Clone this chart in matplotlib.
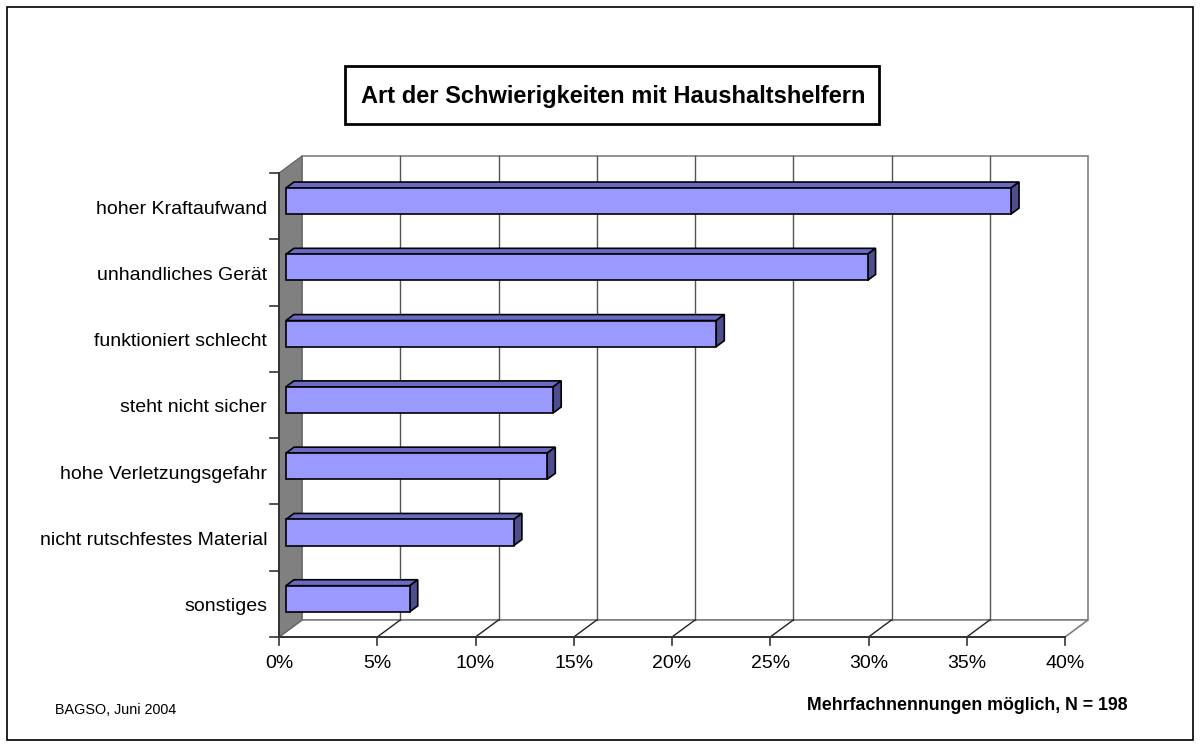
import matplotlib
matplotlib.use("Agg")
import matplotlib.pyplot as plt
from matplotlib.patches import Polygon, Rectangle
from matplotlib.lines import Line2D
from matplotlib.transforms import IdentityTransform
import numpy as np

plt.rcParams['font.family'] = ['Liberation Sans', 'DejaVu Sans']

title = "Art der Schwierigkeiten mit Haushaltshelfern"
categories = ["hoher Kraftaufwand", "unhandliches Gerät", "funktioniert schlecht",
              "steht nicht sicher", "hohe Verletzungsgefahr",
              "nicht rutschfestes Material", "sonstiges"]
values = [36.9, 29.6, 21.9, 13.6, 13.3, 11.6, 6.3]
xticks = [0, 5, 10, 15, 20, 25, 30, 35, 40]
xticklabels = ["0%", "5%", "10%", "15%", "20%", "25%", "30%", "35%", "40%"]
source = "BAGSO, Juni 2004"
note = "Mehrfachnennungen möglich, N = 198"

W, H = 1200, 747
fig = plt.figure(figsize=(W / 100, H / 100), dpi=100)
ax = fig.add_axes([279 / W, (H - 637) / H, (1065 - 279) / W, (637 - 173) / H])
ax.set_xlim(0, 40)
ax.set_ylim(0, len(categories))
ax.axis('off')

DEPTH = np.array([23.0, 17.0])  # display offset of full depth (pixels)
ID = IdentityTransform()


def P(x, y, d=0.0):
    return ax.transData.transform((x, y)) + d * DEPTH


def poly(pts, **kw):
    p = Polygon(np.array(pts), closed=True, transform=ID, clip_on=False, **kw)
    fig.add_artist(p)


def line(p1, p2, **kw):
    l = Line2D([p1[0], p2[0]], [p1[1], p2[1]], transform=ID, clip_on=False, **kw)
    fig.add_artist(l)


n = len(categories)
xmax = 40
grey = '#808080'
# back wall
poly([P(0, 0, 1), P(xmax, 0, 1), P(xmax, n, 1), P(0, n, 1)], facecolor='white',
     edgecolor=grey, lw=1.2, zorder=1)
# floor
poly([P(0, 0, 0), P(xmax, 0, 0), P(xmax, 0, 1), P(0, 0, 1)], facecolor='white',
     edgecolor=grey, lw=1.2, zorder=1)
# side wall
poly([P(0, 0, 0), P(0, n, 0), P(0, n, 1), P(0, 0, 1)], facecolor='#808080',
     edgecolor='#606060', lw=0.8, zorder=1)
# gridlines
for xv in xticks[1:-1]:
    line(P(xv, 0, 1), P(xv, n, 1), color='#555555', lw=1.0, zorder=2)
    line(P(xv, 0, 0), P(xv, 0, 1), color='#222222', lw=1.0, zorder=2)
# axis lines
line(P(0, 0, 0), P(xmax, 0, 0), color='#333333', lw=1.4, zorder=3)
line(P(0, 0, 0), P(0, n, 0), color='#333333', lw=1.4, zorder=3)
for xv, lab in zip(xticks, xticklabels):
    p = P(xv, 0, 0)
    line(p, p + np.array([0, -8]), color='#333333', lw=1.2, zorder=3)
    fig.text(p[0] / W, (p[1] - 18) / H, lab, ha='center', va='top', fontsize=14)
for k in range(n + 1):
    p = P(0, k, 0)
    line(p, p + np.array([-9, 0]), color='#333333', lw=1.2, zorder=3)
for i, cat in enumerate(categories):
    c = n - 0.5 - i
    p = P(0, c, 0)
    fig.text((p[0] - 12) / W, (p[1] - 3) / H, cat, ha='right', va='center', fontsize=14)

# bars
f0, f1 = 0.3, 0.65
h = 0.197
front_c, top_c, side_c = '#9999FF', '#6B6BC6', '#4E4E8E'
for i, v in enumerate(values):
    c = n - 0.5 - i
    poly([P(0, c + h, f0), P(v, c + h, f0), P(v, c + h, f1), P(0, c + h, f1)],
         facecolor=top_c, edgecolor='black', lw=1.2, zorder=4)
    poly([P(v, c - h, f0), P(v, c + h, f0), P(v, c + h, f1), P(v, c - h, f1)],
         facecolor=side_c, edgecolor='black', lw=1.2, zorder=4)
    poly([P(0, c - h, f0), P(v, c - h, f0), P(v, c + h, f0), P(0, c + h, f0)],
         facecolor=front_c, edgecolor='black', lw=1.2, zorder=5)

# title box
fig.add_artist(Rectangle((345 / W, (H - 124) / H), (879 - 345) / W, (124 - 66) / H,
                         transform=fig.transFigure, facecolor='white',
                         edgecolor='black', lw=2))
fig.text(613 / W, (H - 96) / H, title, ha='center', va='center', fontsize=17,
         fontweight='bold')

fig.text(55 / W, (H - 710) / H, source, ha='left', va='center', fontsize=10.4)
fig.text(1128 / W, (H - 706) / H, note, ha='right', va='center', fontsize=12.8,
         fontweight='bold')

# outer frame
fig.add_artist(Rectangle((7 / W, 7 / H), (1193 - 7) / W, (740 - 7) / H,
                         transform=fig.transFigure, facecolor='none',
                         edgecolor='black', lw=1.2))

fig.savefig("out.png", dpi=100)
